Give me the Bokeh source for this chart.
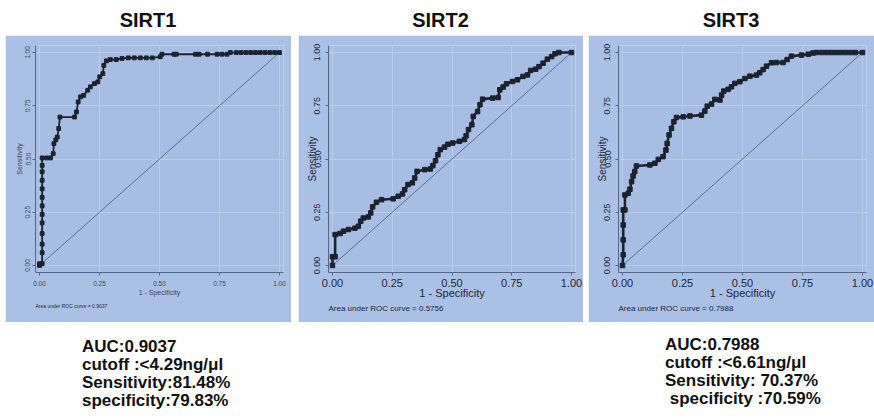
from bokeh.plotting import figure
from bokeh.layouts import column, row
from bokeh.models import Div, Spacer, Range1d, FixedTicker, NumeralTickFormatter, Title, ColumnDataSource
from bokeh.embed import file_html
from bokeh.resources import INLINE

FONT = "Liberation Sans"

titles = ["SIRT1", "SIRT2", "SIRT3"]
auc_notes = ["Area under ROC curve = 0.9037",
             "Area under ROC curve = 0.5756",
             "Area under ROC curve = 0.7988"]
tick_values = [0.0, 0.25, 0.5, 0.75, 1.0]

# (1 - specificity, sensitivity)
sirt1_points = [
    (0.000, 0.000), (0.000, 0.008), (0.011, 0.008), (0.011, 0.06), (0.011, 0.10),
    (0.011, 0.15), (0.011, 0.20), (0.011, 0.24), (0.011, 0.28), (0.011, 0.32),
    (0.011, 0.36), (0.011, 0.40), (0.011, 0.44), (0.011, 0.47), (0.011, 0.505),
    (0.030, 0.505), (0.046, 0.505), (0.057, 0.525), (0.060, 0.572), (0.068, 0.590),
    (0.074, 0.603), (0.080, 0.643), (0.085, 0.697), (0.146, 0.697), (0.154, 0.721),
    (0.161, 0.768), (0.171, 0.792), (0.184, 0.799), (0.201, 0.823), (0.212, 0.839),
    (0.229, 0.854), (0.243, 0.862), (0.251, 0.886), (0.264, 0.901), (0.268, 0.940),
    (0.279, 0.961), (0.295, 0.967), (0.320, 0.967), (0.344, 0.972), (0.370, 0.975),
    (0.395, 0.975), (0.420, 0.975), (0.445, 0.975), (0.470, 0.975), (0.503, 0.980),
    (0.510, 0.992), (0.560, 0.992), (0.570, 0.992), (0.650, 0.992), (0.665, 0.992),
    (0.700, 0.992), (0.740, 0.992), (0.760, 0.992), (0.781, 0.992), (0.795, 1.000),
    (0.820, 1.000), (0.840, 1.000), (0.860, 1.000), (0.880, 1.000), (0.900, 1.000),
    (0.920, 1.000), (0.940, 1.000), (0.960, 1.000), (0.980, 1.000), (1.000, 1.000),
]

sirt2_points = [
    (0.000, 0.000), (0.000, 0.041), (0.011, 0.041), (0.011, 0.145), (0.032, 0.150),
    (0.046, 0.161), (0.067, 0.169), (0.094, 0.175), (0.108, 0.184), (0.118, 0.208),
    (0.129, 0.223), (0.150, 0.228), (0.160, 0.247), (0.168, 0.275), (0.184, 0.297),
    (0.205, 0.309), (0.254, 0.313), (0.275, 0.325), (0.293, 0.336), (0.302, 0.356),
    (0.316, 0.380), (0.334, 0.388), (0.344, 0.411), (0.354, 0.442), (0.386, 0.450),
    (0.409, 0.453), (0.420, 0.469), (0.431, 0.492), (0.441, 0.520), (0.451, 0.544),
    (0.469, 0.556), (0.483, 0.569), (0.503, 0.575), (0.531, 0.583), (0.552, 0.591),
    (0.559, 0.609), (0.569, 0.638), (0.583, 0.661), (0.589, 0.700), (0.607, 0.723),
    (0.617, 0.755), (0.628, 0.781), (0.670, 0.786), (0.693, 0.789), (0.700, 0.825),
    (0.714, 0.838), (0.728, 0.853), (0.753, 0.864), (0.774, 0.872), (0.797, 0.888),
    (0.816, 0.895), (0.829, 0.916), (0.850, 0.922), (0.864, 0.934), (0.881, 0.950),
    (0.899, 0.969), (0.917, 0.981), (0.931, 0.994), (0.947, 1.000), (1.000, 1.000),
]

sirt3_points = [
    (0.000, 0.000), (0.003, 0.05), (0.003, 0.12), (0.003, 0.19), (0.003, 0.261),
    (0.010, 0.261), (0.010, 0.331), (0.024, 0.339), (0.031, 0.358), (0.038, 0.394),
    (0.044, 0.420), (0.051, 0.441), (0.058, 0.467), (0.114, 0.472), (0.135, 0.480),
    (0.149, 0.498), (0.169, 0.511), (0.181, 0.542), (0.186, 0.573), (0.194, 0.613),
    (0.204, 0.644), (0.214, 0.675), (0.225, 0.695), (0.253, 0.698), (0.281, 0.702),
    (0.329, 0.706), (0.343, 0.725), (0.353, 0.748), (0.371, 0.758), (0.385, 0.780),
    (0.406, 0.777), (0.413, 0.800), (0.422, 0.819), (0.440, 0.827), (0.454, 0.839),
    (0.468, 0.855), (0.489, 0.863), (0.510, 0.878), (0.531, 0.889), (0.558, 0.894),
    (0.572, 0.905), (0.586, 0.920), (0.600, 0.936), (0.621, 0.952), (0.642, 0.953),
    (0.669, 0.953), (0.686, 0.967), (0.704, 0.983), (0.746, 0.988), (0.774, 0.992),
    (0.794, 0.998), (0.808, 1.000), (0.830, 1.000), (0.850, 1.000), (0.870, 1.000),
    (0.890, 1.000), (0.910, 1.000), (0.930, 1.000), (0.950, 1.000), (0.970, 1.000),
    (1.000, 1.000),
]

stats_sirt1 = ["AUC:0.9037", "cutoff :&lt;4.29ng/\u03bcl", "Sensitivity:81.48%", "specificity:79.83%"]
stats_sirt3 = ["AUC:0.7988", "cutoff :&lt;6.61ng/\u03bcl", "Sensitivity: 70.37%", "&nbsp;specificity :70.59%"]

PANEL_BG = "#aac1e5"
PLOT_BG = "#a7bee2"
GRID = "#b9cceb"
AXIS = "#55688a"
CURVE = "#1b2230"
DIAG = "#5b6f90"


def make_panel(points, note, width, small):
    p = figure(width=width, height=287, output_backend="svg", toolbar_location=None,
               x_range=Range1d(-0.0167, 1.0167), y_range=Range1d(-0.033, 1.033),
               min_border_left=30, min_border_right=8, min_border_top=10, min_border_bottom=50,
               background_fill_color=PLOT_BG, border_fill_color=PANEL_BG,
               outline_line_color=None)
    xs = [pt[0] for pt in points]
    ys = [pt[1] for pt in points]
    src = ColumnDataSource(dict(x=xs, y=ys))
    p.line([0, 1], [0, 1], line_color=DIAG, line_width=1)
    p.line("x", "y", source=src, line_color=CURVE, line_width=1.8 if small else 2.6)
    p.scatter("x", "y", source=src, marker="square", size=3.8 if small else 4.5,
              fill_color=CURVE, line_color=CURVE)

    for ax in (p.xaxis[0], p.yaxis[0]):
        ax.ticker = FixedTicker(ticks=tick_values)
        ax.formatter = NumeralTickFormatter(format="0.00")
        ax.axis_line_color = AXIS
        ax.major_tick_line_color = AXIS
        ax.minor_tick_line_color = None
        ax.major_tick_out = 3
        ax.major_tick_in = 0
        ax.major_label_text_font = FONT
        ax.axis_label_text_font = FONT
        ax.axis_label_text_font_style = "normal"
        ax.major_label_text_color = "#3a4658" if small else "#1e2636"
        ax.axis_label_text_color = "#3a4658" if small else "#1e2636"
    p.xgrid.ticker = FixedTicker(ticks=tick_values)
    p.ygrid.ticker = FixedTicker(ticks=tick_values)
    p.xgrid.grid_line_color = GRID
    p.ygrid.grid_line_color = GRID

    p.xaxis.axis_label = "1 - Specificity"
    p.yaxis.axis_label = "Sensitivity"
    p.yaxis.major_label_orientation = "vertical"

    if small:
        p.xaxis.major_label_text_font_size = "6.5px"
        p.yaxis.major_label_text_font_size = "6.5px"
        p.xaxis.axis_label_text_font_size = "7px"
        p.yaxis.axis_label_text_font_size = "7px"
        p.xaxis.major_label_standoff = 5
        p.yaxis.major_label_standoff = 2
        p.xaxis.axis_label_standoff = 0
        p.yaxis.axis_label_standoff = 0
        note_size = "5px"
        note_standoff = 5
    else:
        p.xaxis.major_label_text_font_size = "11px"
        p.yaxis.major_label_text_font_size = "9px"
        p.xaxis.axis_label_text_font_size = "11px"
        p.yaxis.axis_label_text_font_size = "10px"
        p.xaxis.major_label_standoff = 3
        p.yaxis.major_label_standoff = 5
        p.xaxis.axis_label_standoff = -3
        p.yaxis.axis_label_standoff = -6
        note_size = "8px"
        note_standoff = 0

    t = Title(text=note, align="left", text_font=FONT, text_font_size=note_size,
              text_font_style="normal", text_color="#1e2636", standoff=note_standoff, offset=0)
    p.add_layout(t, "below")
    return p


p1 = make_panel(sirt1_points, auc_notes[0], 286, True)
p2 = make_panel(sirt2_points, auc_notes[1], 285, False)
p3 = make_panel(sirt3_points, auc_notes[2], 286, False)

title_lefts = [5, 298, 588]
title_widths = [286, 285, 286]
spans = "".join(
    f'<span style="position:absolute;left:{l}px;width:{w}px;top:6px;text-align:center">{t}</span>'
    for t, l, w in zip(titles, title_lefts, title_widths))
top_div = Div(text=f'<div style="position:relative;width:874px;height:35px;font-family:\'{FONT}\',Arial,sans-serif;'
                   f'font-weight:bold;font-size:20px;color:#111">{spans}</div>',
              width=874, height=35, margin=(0, 0, 0, 0))


def stat_block(lines, left, top):
    body = "<br>".join(lines)
    return (f'<div style="position:absolute;left:{left}px;top:{top}px;line-height:18px;'
            f'white-space:pre;">{body}</div>')


bottom_div = Div(text=f'<div style="position:relative;width:874px;height:98px;font-family:\'{FONT}\',Arial,sans-serif;'
                      f'font-weight:bold;font-size:17px;color:#111">'
                      f'{stat_block(stats_sirt1, 82, 16)}{stat_block(stats_sirt3, 665, 14)}</div>',
                 width=874, height=98, margin=(0, 0, 0, 0))

fig_row = row(Spacer(width=5, height=287), p1, Spacer(width=7, height=287), p2,
              Spacer(width=5, height=287), p3)
layout = column(top_div, fig_row, bottom_div)

open("out.html", "w").write(file_html(layout, INLINE))
